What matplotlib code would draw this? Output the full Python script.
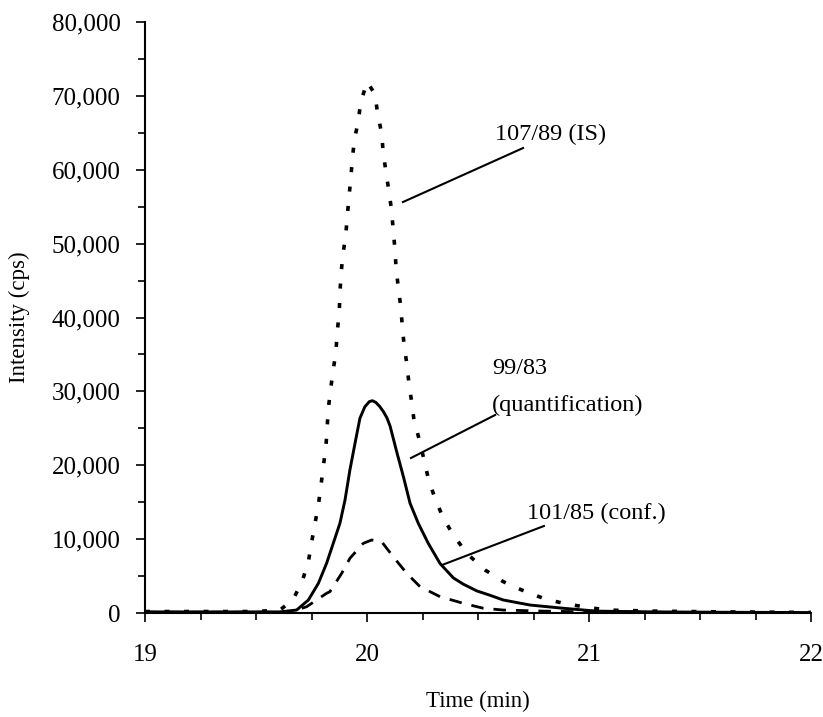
import matplotlib
matplotlib.use("Agg")
import matplotlib.pyplot as plt
from matplotlib.ticker import MultipleLocator, FuncFormatter

# ---- data ----
is_x = [19.0, 19.3, 19.5, 19.608, 19.668, 19.710, 19.736, 19.751, 19.766, 19.781, 19.793,
        19.803, 19.815, 19.826, 19.836, 19.848, 19.860, 19.866, 19.875, 19.878, 19.883,
        19.891, 19.904, 19.911, 19.919, 19.927, 19.934, 19.943, 19.961, 19.972, 20.001,
        20.036, 20.048, 20.066, 20.073, 20.086, 20.099, 20.111, 20.118, 20.126, 20.131,
        20.141, 20.152, 20.159, 20.167, 20.179, 20.189, 20.201, 20.212, 20.236, 20.257,
        20.276, 20.306, 20.344, 20.389, 20.449, 20.532, 20.614, 20.697, 20.794, 20.884,
        20.974, 21.080, 21.3, 21.6, 22.0]
is_y = [200, 200, 200, 400, 1850, 4470, 6945, 9650, 12140, 14620, 17330,
        19800, 22510, 27710, 30280, 32890, 35370, 38080, 40700, 43275, 45845,
        48460, 51030, 53645, 56350, 58840, 61455, 64025, 66640, 69210, 71900,
        70210, 67545, 64930, 62310, 59600, 57030, 54455, 51840, 49230, 46660,
        44035, 41460, 38850, 36275, 33800, 31090, 28600, 26030, 23420, 20710,
        18230, 15525, 12820, 10560, 8080, 5820, 4240, 3115, 1990, 1310,
        850, 400, 250, 150, 80]

quant_x = [19.0, 19.3, 19.5, 19.608, 19.683, 19.736, 19.781, 19.818, 19.848, 19.878, 19.901,
           19.923, 19.946, 19.968, 19.990, 20.010, 20.024, 20.040, 20.056, 20.073, 20.090,
           20.104, 20.134, 20.164, 20.194, 20.231, 20.276, 20.329, 20.389, 20.434, 20.494,
           20.554, 20.614, 20.734, 20.884, 21.035, 21.3, 21.6, 22.0]
quant_y = [150, 150, 150, 150, 400, 1760, 4020, 6730, 9430, 12140, 15300,
           19360, 22970, 26350, 27900, 28600, 28740, 28500, 28000, 27300, 26400,
           25300, 21800, 18450, 14850, 12140, 9430, 6700, 4750, 3900, 3000,
           2400, 1760, 1080, 640, 250, 150, 100, 60]

conf_x = [19.0, 19.3, 19.5, 19.653, 19.728, 19.818, 19.833, 19.886, 19.923, 19.983, 20.021,
          20.066, 20.118, 20.179, 20.239, 20.329, 20.434, 20.524, 20.614, 20.8, 21.0,
          21.4, 22.0]
conf_y = [100, 100, 100, 100, 850, 2670, 2890, 5370, 7400, 9430, 9880,
          9650, 7620, 5370, 3560, 2210, 1310, 640, 400, 250, 150,
          80, 30]

x_ticks = [19, 20, 21, 22]
y_ticks = [0, 10000, 20000, 30000, 40000, 50000, 60000, 70000, 80000]

# ---- figure ----
plt.rcParams['font.family'] = ['Liberation Serif', 'DejaVu Serif']
fig = plt.figure(figsize=(8.23, 7.17), dpi=100)
ax = fig.add_axes([145 / 823, 104 / 717, 666 / 823, 591 / 717])

ax.plot(is_x, is_y, color='black', lw=2.6, linestyle=(0, (1.4, 4.0)))
ax.plot(quant_x, quant_y, color='black', lw=2.1, linestyle='-')
ax.plot(conf_x, conf_y, color='black', lw=2.0, linestyle=(0, (4.5, 3.6)))

ax.set_xlim(19, 22)
ax.set_ylim(0, 80000)
ax.set_xticks(x_ticks)
ax.set_yticks(y_ticks)
ax.xaxis.set_minor_locator(MultipleLocator(0.25))
ax.yaxis.set_minor_locator(MultipleLocator(5000))
ax.yaxis.set_major_formatter(FuncFormatter(lambda v, p: f"{int(v):,}"))

for s in ['top', 'right']:
    ax.spines[s].set_visible(False)
for s in ['left', 'bottom']:
    ax.spines[s].set_linewidth(1.5)

ax.tick_params(axis='both', which='both', direction='out', width=1.2, labelsize=18)
ax.tick_params(axis='both', which='major', length=6.5)
ax.tick_params(axis='both', which='minor', length=5)
ax.tick_params(axis='y', which='major', pad=11)
ax.tick_params(axis='x', which='major', pad=16)

ax.set_xlabel('Time (min)', fontsize=16.5, labelpad=18)
ax.set_ylabel('Intensity (cps)', fontsize=16.5, labelpad=16)

# annotations
ax.text(20.577, 64840, '107/89 (IS)', fontsize=17.5, va='center', ha='left')
ax.plot([20.703, 20.162], [62940, 55630], color='black', lw=1.5)

ax.text(20.563, 33160, '99/83', fontsize=17.5, va='center', ha='left')
ax.text(20.563, 28155, '(quantification)', fontsize=17.5, va='center', ha='left')
ax.plot([20.577, 20.198], [26800, 20980], color='black', lw=1.5)

ax.text(20.721, 13536, '101/85 (conf.)', fontsize=17.5, va='center', ha='left')
ax.plot([20.797, 20.338], [11776, 6497], color='black', lw=1.5)

fig.savefig('out.png', dpi=100)
